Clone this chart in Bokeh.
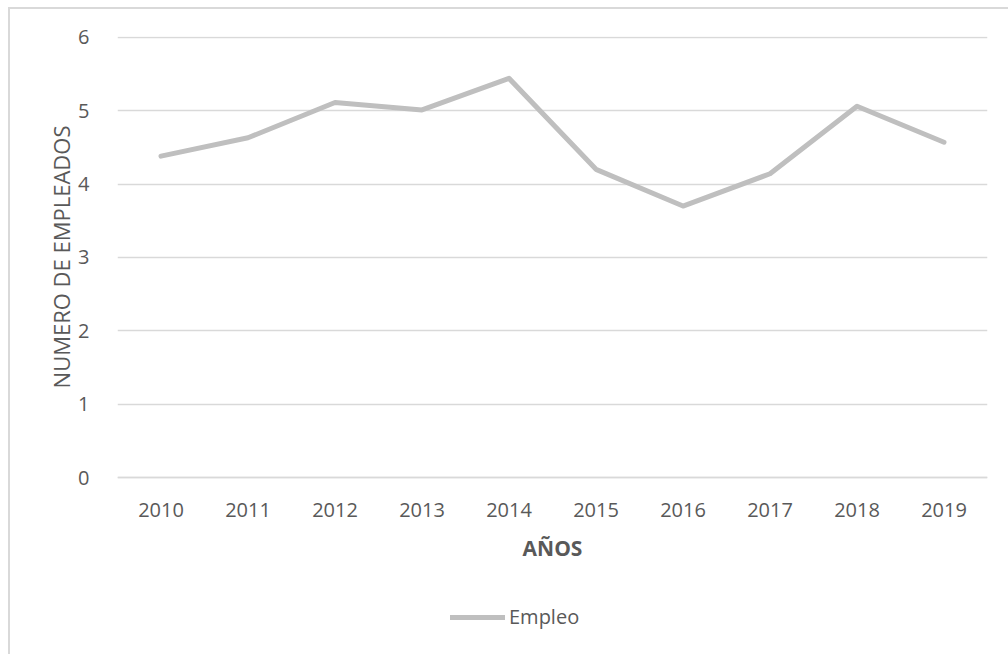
from bokeh.plotting import figure
from bokeh.models import FactorRange, Range1d, FixedTicker, Legend, LegendItem, InlineStyleSheet, Title
from bokeh.embed import file_html
from bokeh.resources import INLINE

years = ["2010", "2011", "2012", "2013", "2014", "2015", "2016", "2017", "2018", "2019"]
empleo = [4.38, 4.63, 5.11, 5.01, 5.44, 4.20, 3.70, 4.14, 5.06, 4.57]
y_ticks = [0, 1, 2, 3, 4, 5, 6]

FONT = "Open Sans"
TXT = "#595959"
GRID = "#d9d9d9"
LINE = "#bfbfbf"

# frame runs to the bottom of the canvas; the x axis is pinned at y = 0
p = figure(width=1008, height=654, x_range=FactorRange(*years, range_padding=0),
           y_range=Range1d(-2.41, 6.01), output_backend="svg", toolbar_location=None,
           min_border_left=117, min_border_right=21, min_border_top=36, min_border_bottom=0)
p.stylesheets = [InlineStyleSheet(css=":host { position: relative; } :host::after { content: ''; position: absolute; left: 8px; top: 7px; right: 0px; bottom: 0px; border-top: 2px solid #d9d9d9; border-left: 2px solid #d9d9d9; pointer-events: none; }")]
p.outline_line_color = None
p.background_fill_color = "white"
p.border_fill_color = "white"

r = p.line(years, empleo, line_color=LINE, line_width=5, line_cap="round", line_join="round")

p.yaxis.ticker = FixedTicker(ticks=y_ticks)
p.yaxis.axis_line_color = None
p.yaxis.major_tick_line_color = None
p.yaxis.minor_tick_line_color = None
p.yaxis.major_label_standoff = 22

p.xaxis.fixed_location = 0
p.xaxis.axis_line_color = GRID
p.xaxis.axis_line_width = 1.5
p.xaxis.major_tick_line_color = None
p.xaxis.minor_tick_line_color = None
p.xaxis.major_label_standoff = 19
p.xaxis.axis_label = "AÑOS"
p.xaxis.axis_label_standoff = 14
p.xaxis.axis_label_text_font_style = "bold"
p.xaxis.axis_label_text_font = FONT
p.xaxis.axis_label_text_font_size = "21px"
p.xaxis.axis_label_text_color = TXT

for ax in (p.xaxis, p.yaxis):
    ax.major_label_text_font = FONT
    ax.major_label_text_font_size = "20px"
    ax.major_label_text_color = TXT

ytitle = Title(text="NUMERO DE EMPLEADOS", align="right", offset=89, standoff=0,
               text_font=FONT, text_font_size="22px", text_font_style="normal", text_color=TXT)
p.add_layout(ytitle, "left")

p.xgrid.grid_line_color = None
p.ygrid.grid_line_color = GRID
p.ygrid.grid_line_width = 1.5
p.ygrid.ticker = FixedTicker(ticks=y_ticks)

legend = Legend(items=[LegendItem(label="Empleo", renderers=[r])], location=(333, 24),
                orientation="horizontal", glyph_width=55, glyph_height=20, label_standoff=4,
                label_text_font=FONT, label_text_font_size="20px", label_text_color=TXT,
                background_fill_alpha=0, border_line_color=None, padding=0, margin=0)
p.add_layout(legend, "center")

open("out.html", "w").write(file_html(p, INLINE))
